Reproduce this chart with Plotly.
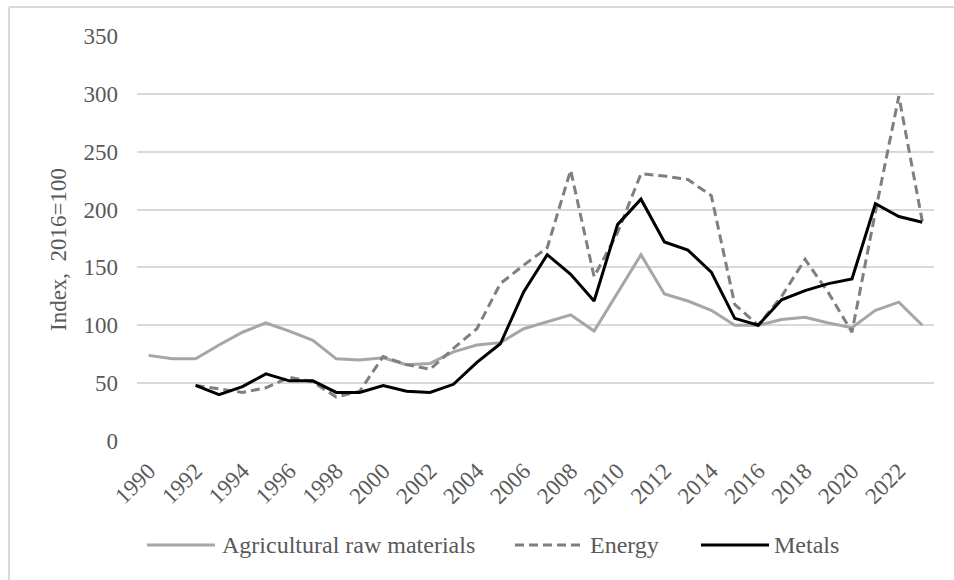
import plotly.graph_objects as go

years = list(range(1990, 2024))
agricultural = [74, 71, 71, 83, 94, 102, 95, 87, 71, 70, 72, 66, 67, 77, 83, 85,
                97, 103, 109, 95, 128, 161, 127, 121, 113, 100, 100, 105, 107, 102,
                98, 113, 120, 100]
energy = [None, None, 48, 45, 42, 46, 55, 51, 38, 43, 73, 66, 62, 80, 97, 136,
          152, 167, 234, 142, 180, 231, 229, 226, 212, 118, 100, 125, 157, 128,
          94, 198, 298, 190]
metals = [None, None, 48, 40, 47, 58, 52, 52, 42, 42, 48, 43, 42, 49, 68, 84,
          129, 161, 144, 121, 187, 209, 172, 165, 146, 106, 100, 122, 130, 136,
          140, 205, 194, 189]
tick_years = list(range(1990, 2023, 2))
y_ticks = [0, 50, 100, 150, 200, 250, 300, 350]
series_names = ["Agricultural raw materials", "Energy", "Metals"]

FONT = "Liberation Serif"
TXT = "#595959"
FS = 23
LFS = 24

c_agri = "#A6A6A6"
c_energy = "#7F7F7F"
c_metal = "#000000"

fig = go.Figure()
fig.add_trace(go.Scatter(x=years, y=agricultural, mode="lines", name=series_names[0],
                         line=dict(color=c_agri, width=3), showlegend=False))
fig.add_trace(go.Scatter(x=years, y=energy, mode="lines", name=series_names[1],
                         line=dict(color=c_energy, width=3, dash="9px,5px"), showlegend=False))
fig.add_trace(go.Scatter(x=years, y=metals, mode="lines", name=series_names[2],
                         line=dict(color=c_metal, width=3), showlegend=False))

L, R, T, B = 137, 20, 36, 139
W, H = 954, 580
pw, ph = W - L - R, H - T - B


def px(xp):
    return (xp - L) / pw


def py(yp):
    return (H - B - yp) / ph


fig.update_layout(
    width=W, height=H,
    margin=dict(l=L, r=R, t=T, b=B, autoexpand=False),
    paper_bgcolor="white", plot_bgcolor="white",
    font=dict(family=FONT, size=FS, color=TXT),
    xaxis=dict(range=[1989.5, 2023.5], tickvals=tick_years,
               ticktext=[str(y) for y in tick_years], tickangle=-45,
               showgrid=False, zeroline=False, showline=False, ticks="",
               ticklabelstandoff=11,
               tickfont=dict(family=FONT, size=FS, color=TXT)),
    yaxis=dict(range=[0, 350], tickvals=y_ticks, showgrid=True,
               gridcolor="#D9D9D9", gridwidth=2, zeroline=False, showline=False,
               ticks="", ticklabelstandoff=18,
               tickfont=dict(family=FONT, size=FS, color=TXT)),
    showlegend=False,
)

# y-axis title
fig.add_annotation(text="Index,  2016=100", xref="paper", yref="paper",
                   x=px(59), y=py(250), textangle=-90, showarrow=False,
                   xanchor="center", yanchor="middle",
                   font=dict(family=FONT, size=FS, color=TXT))

# custom legend
ly = py(545)
legend_items = [
    (series_names[0], 147, 215, 220, c_agri, "solid"),
    (series_names[1], 515, 585, 588, c_energy, "9px,5px"),
    (series_names[2], 701, 769, 772, c_metal, "solid"),
]
for name, x0, x1, xt, col, dash in legend_items:
    fig.add_shape(type="line", xref="paper", yref="paper", x0=px(x0), x1=px(x1),
                  y0=ly, y1=ly, line=dict(color=col, width=3, dash=dash))
    fig.add_annotation(text=name, xref="paper", yref="paper", x=px(xt), y=ly,
                       xanchor="left", yanchor="middle", showarrow=False,
                       font=dict(family=FONT, size=LFS, color=TXT))

# outer border (top and left edges visible)
fig.add_shape(type="line", xref="paper", yref="paper", x0=px(9), x1=px(960),
              y0=py(7), y1=py(7), line=dict(color="#D9D9D9", width=2))
fig.add_shape(type="line", xref="paper", yref="paper", x0=px(9), x1=px(9),
              y0=py(7), y1=py(590), line=dict(color="#D9D9D9", width=2))

fig.write_html(
    "out.html",
    config={"displayModeBar": False},
    post_script="document.body.style.margin='0';document.body.style.padding='0';"
                "document.body.style.overflow='hidden';",
)
